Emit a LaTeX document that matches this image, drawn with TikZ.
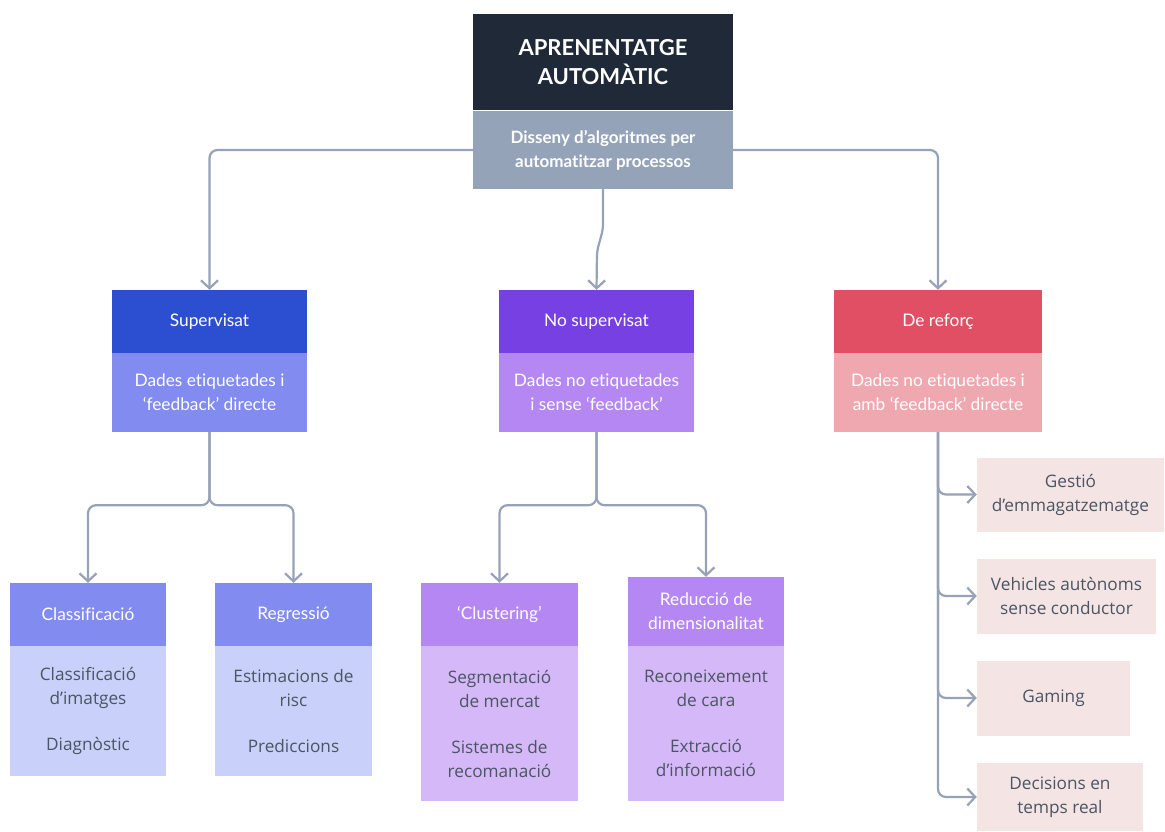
\documentclass[tikz,border=0pt]{standalone}
\usepackage{fontspec}
\setmainfont{Lato}[Ligatures={TeX,NoCommon}]
\newfontfamily\bodyfont{Open Sans}
\usetikzlibrary{arrows.meta}

\definecolor{navy}{HTML}{1F2937}
\definecolor{slate}{HTML}{94A3B8}
\definecolor{linegrey}{HTML}{97A2B6}
\definecolor{txtgrey}{HTML}{4B5563}
\definecolor{supdark}{HTML}{2C4FD2}
\definecolor{supmid}{HTML}{828BF0}
\definecolor{suplight}{HTML}{C9D0FA}
\definecolor{nosdark}{HTML}{7640E2}
\definecolor{nosmid}{HTML}{B587F3}
\definecolor{noslight}{HTML}{D5B8F7}
\definecolor{refdark}{HTML}{E04F63}
\definecolor{refmid}{HTML}{F0A8B0}
\definecolor{reflight}{HTML}{F4E4E4}

\begin{document}
\begin{tikzpicture}[x=1pt, y=-1pt,
    box/.style={inner sep=0pt, align=center},
    head/.style={box, text=white, font=\fontsize{17.3}{24}\selectfont},
    item/.style={box, text=txtgrey, font=\bodyfont\fontsize{17.2}{24}\selectfont},
    conn/.style={draw=linegrey, line width=2.2pt, rounded corners=8pt,
        -{Straight Barb[length=8pt,width=17pt]}}]
    \useasboundingbox (0,0) rectangle (1165,831);
    % arrel
    \node[box, fill=navy, text=white, font=\bfseries\fontsize{22}{29}\selectfont,
        minimum width=260pt, minimum height=96pt] (ml) at (603,62) {APRENENTATGE\\AUTOMÀTIC};
    \node[box, fill=slate, text=white, font=\bfseries\fontsize{17}{24}\selectfont,
        minimum width=260pt, minimum height=78pt] (mlsub) at (603,150) {Disseny d'algoritmes per\\automatitzar processos};
    % tipus
    \node[head, fill=supdark, minimum width=195pt, minimum height=63pt] (suphead) at (209.5,321.5) {Supervisat};
    \node[head, fill=supmid, minimum width=195pt, minimum height=79pt] (supbody) at (209.5,392.5) {Dades etiquetades i\\‘feedback’ directe};
    \node[head, fill=nosdark, minimum width=195pt, minimum height=63pt] (noshead) at (596.5,321.5) {No supervisat};
    \node[head, fill=nosmid, minimum width=195pt, minimum height=79pt] (nosbody) at (596.5,392.5) {Dades no etiquetades\\i sense ‘feedback’};
    \node[head, fill=refdark, minimum width=208pt, minimum height=63pt] (refhead) at (938,321.5) {De reforç};
    \node[head, fill=refmid, minimum width=208pt, minimum height=79pt] (refbody) at (938,392.5) {Dades no etiquetades i\\amb ‘feedback’ directe};
    % subtipus
    \node[head, fill=supmid, minimum width=156pt, minimum height=63pt] (clahead) at (88,614.5) {Classificació};
    \node[item, fill=suplight, minimum width=156pt, minimum height=130pt] (clabody) at (88,711) {Classificació\\d’imatges\\[22pt]Diagnòstic};
    \node[head, fill=supmid, minimum width=157pt, minimum height=63pt] (reghead) at (293.5,614.5) {Regressió};
    \node[item, fill=suplight, minimum width=157pt, minimum height=130pt] (regbody) at (293.5,711) {Estimacions de\\risc\\[22pt]Prediccions};
    \node[head, fill=nosmid, minimum width=157pt, minimum height=63pt] (cluhead) at (499.5,614.5) {‘Clustering’};
    \node[item, fill=noslight, minimum width=157pt, minimum height=155pt] (clubody) at (499.5,723.5) {Segmentació\\de mercat\\[22pt]Sistemes de\\recomanació};
    \node[head, fill=nosmid, minimum width=156pt, minimum height=69pt] (redhead) at (706,611.5) {Reducció de\\dimensionalitat};
    \node[item, fill=noslight, minimum width=156pt, minimum height=155pt] (redbody) at (706,723.5) {Reconeixement\\de cara\\[22pt]Extracció\\d’informació};
    % aplicacions de reforç
    \node[item, fill=reflight, minimum width=187pt, minimum height=74pt] (gest) at (1070.5,494.5) {Gestió\\d’emmagatzematge};
    \node[item, fill=reflight, minimum width=179pt, minimum height=75pt] (vehi) at (1066.5,596) {Vehicles autònoms\\sense conductor};
    \node[item, fill=reflight, minimum width=153pt, minimum height=75pt] (gami) at (1053.5,698) {Gaming};
    \node[item, fill=reflight, minimum width=166pt, minimum height=68pt] (deci) at (1060,797) {Decisions en\\temps real};
    % connexions
    \draw[conn] (mlsub.west) -| (suphead.north);
    \draw[conn] (mlsub.east) -| (refhead.north);
    \draw[conn, rounded corners=5pt] (mlsub.south) -- ++(0,40) -- ++(-6,22) -- (noshead.north);
    \draw[conn] (supbody.south) -- ++(0,73) -| (clahead.north);
    \draw[conn] (supbody.south) -- ++(0,73) -| (reghead.north);
    \draw[conn] (nosbody.south) -- ++(0,73) -| (cluhead.north);
    \draw[conn] (nosbody.south) -- ++(0,73) -| (redhead.north);
    \foreach \n in {gest,vehi,gami,deci} \draw[conn] (refbody.south) |- (\n.west);
\end{tikzpicture}
\end{document}
